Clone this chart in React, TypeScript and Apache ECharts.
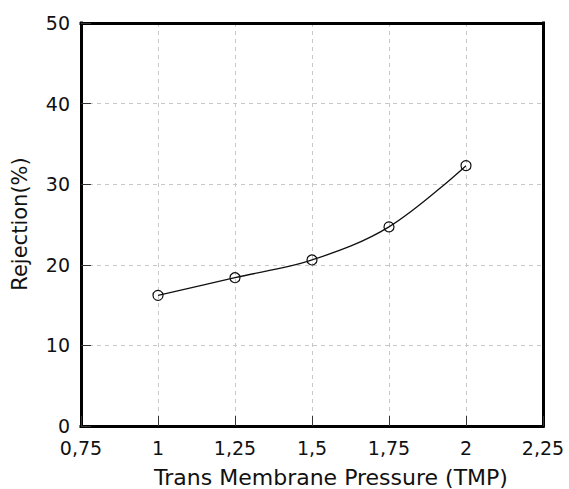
import React, { useEffect, useRef } from "react";
import * as echarts from "echarts";

const tmp = [1, 1.25, 1.5, 1.75, 2];
const rejection = [16.2, 18.4, 20.6, 24.7, 32.3];
const xAxisTitle = "Trans Membrane Pressure (TMP)";
const yAxisTitle = "Rejection(%)";

const fmtX = (v: number) => String(v).replace(".", ",");

export default function App() {
  const ref = useRef<HTMLDivElement>(null);
  useEffect(() => {
    const chart = echarts.init(ref.current!, null, { renderer: "svg" });
    const font = "'DejaVu Sans', sans-serif";
    const tickStyle = { show: true, inside: true, length: 10, lineStyle: { color: "#333", width: 1 } };
    const split = { show: true, showMinLine: false, showMaxLine: false, lineStyle: { color: "#c8c8c8", type: [4, 4], width: 1 } };
    const border = { show: true, onZero: false, lineStyle: { color: "#000", width: 3, cap: "square" } };
    chart.setOption({
      animation: false,
      backgroundColor: "#fff",
      grid: { left: 81, top: 23, right: 26, bottom: 63 },
      xAxis: [
        {
          type: "value",
          min: 0.75,
          max: 2.25,
          interval: 0.25,
          axisLine: border,
          axisTick: tickStyle,
          axisLabel: { formatter: fmtX, fontFamily: font, fontSize: 19, color: "#111", margin: 12, showMinLabel: true, showMaxLabel: true },
          splitLine: split,
        },
        {
          type: "value",
          position: "top",
          min: 0.75,
          max: 2.25,
          interval: 0.25,
          axisLine: border,
          axisTick: { show: false },
          axisLabel: { show: false },
          splitLine: { show: false },
        },
      ],
      yAxis: [
        {
          type: "value",
          min: 0,
          max: 50,
          interval: 10,
          axisLine: border,
          axisTick: tickStyle,
          axisLabel: { fontFamily: font, fontSize: 19, color: "#111", margin: 11 },
          splitLine: split,
        },
        {
          type: "value",
          position: "right",
          min: 0,
          max: 50,
          interval: 10,
          axisLine: border,
          axisTick: { show: false },
          axisLabel: { show: false },
          splitLine: { show: false },
        },
      ],
      graphic: [
        {
          type: "text",
          x: 331,
          y: 477,
          style: { text: xAxisTitle, font: `22px ${font}`, fill: "#111", align: "center", verticalAlign: "middle" },
        },
        {
          type: "text",
          x: 20,
          y: 224,
          rotation: Math.PI / 2,
          style: { text: yAxisTitle, font: `21px ${font}`, fill: "#111", align: "center", verticalAlign: "middle" },
        },
      ],
      series: [
        {
          type: "line",
          data: tmp.map((x, i) => [x, rejection[i]]),
          smooth: 0.35,
          symbol: "circle",
          symbolSize: 10,
          showSymbol: true,
          lineStyle: { color: "#111", width: 1.3 },
          itemStyle: { color: "transparent", borderColor: "#111", borderWidth: 1.2 },
          z: 5,
        },
      ],
    });
    return () => chart.dispose();
  }, []);
  return <div ref={ref} style={{ position: "fixed", left: 0, top: 0, width: 569, height: 489 }} />;
}
